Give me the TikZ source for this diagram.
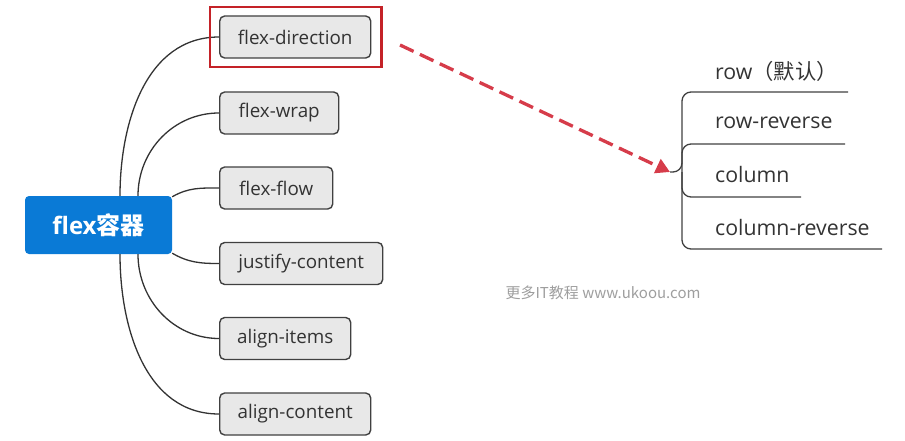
\documentclass[tikz,border=0pt]{standalone}
\usepackage{fontspec}
\setmainfont{Open Sans}
\newfontfamily\cjkfont{Noto Sans CJK SC}
\usetikzlibrary{arrows.meta,positioning}

\definecolor{rootblue}{RGB}{10,122,214}
\definecolor{markred}{RGB}{196,34,40}
\definecolor{arrowred}{RGB}{214,60,74}
\definecolor{itemgray}{RGB}{232,232,232}

\newcommand\itemfont{\fontsize{18.8}{21}\selectfont}
\newcommand\valuefont{\fontsize{21.3}{24}\selectfont}

\tikzset{
  rootbox/.style={fill=rootblue, rounded corners=4pt, minimum width=147pt,
    minimum height=58pt, text=white, font=\fontsize{24}{27}\selectfont\bfseries},
  flexitem/.style={draw=black!75, line width=1.4pt, fill=itemgray,
    rounded corners=5pt, minimum height=42pt, anchor=west, inner xsep=0pt,
    font=\itemfont, text=black!80},
  branch/.style={draw=black!80, line width=1.3pt},
  valuetext/.style={anchor=west, inner sep=0pt, font=\valuefont, text=black!80},
  underline/.style={draw=black!75, line width=1.3pt, rounded corners=9pt},
  markbox/.style={draw=markred, line width=2.3pt},
  pointer/.style={draw=arrowred, line width=3.3pt, dash pattern=on 15pt off 7pt,
    -{Triangle[length=14pt,width=15pt]}}
}

\begin{document}
\begin{tikzpicture}[x=1pt, y=1pt]
  \useasboundingbox (0,0) rectangle (905,440);

  % root and its properties
  \node[rootbox] (root) at (98.5,215) {flex{\cjkfont 容器}};
  \node[flexitem, minimum width=151pt] (dir) at (219,403) {flex-direction};
  \node[flexitem, minimum width=119pt] (wrap) at (219,327) {flex-wrap};
  \node[flexitem, minimum width=113pt] (flow) at (219,252) {flex-flow};
  \node[flexitem, minimum width=163pt] (justify) at (219,176.5) {justify-content};
  \node[flexitem, minimum width=131pt] (items) at (219,101.5) {align-items};
  \node[flexitem, minimum width=151pt] (content) at (219,26) {align-content};

  \draw[branch] ([xshift=21.5pt]root.north) to[out=90, in=180] (dir.west);
  \draw[branch] ([xshift=39.5pt]root.north) to[out=90, in=180] (wrap.west);
  \draw[branch] ([yshift=-1pt]root.north east) to[out=30, in=180] (flow.west);
  \draw[branch] ([yshift=1pt]root.south east) to[out=-30, in=180] (justify.west);
  \draw[branch] ([xshift=39.5pt]root.south) to[out=-90, in=180] (items.west);
  \draw[branch] ([xshift=21.5pt]root.south) to[out=-90, in=180] (content.west);

  % highlight
  \draw[markbox] ([shift={(-9pt,-8pt)}]dir.south west)
    rectangle ([shift={(10pt,8pt)}]dir.north east);

  % values of flex-direction
  \coordinate (hub) at (670,268);
  \coordinate (spine) at (682,268);
  \node[valuetext] (row) at (715,369) {row{\cjkfont （默认）}};
  \node[valuetext] (rowrev) at (715,317) {row-reverse};
  \node[valuetext] (col) at (715,265) {column};
  \node[valuetext] (colrev) at (715,212) {column-reverse};

  \draw[underline] (hub) -- (spine) |- (848,348);
  \draw[underline] (spine) |- (845,296);
  \draw[underline] (spine) |- (801,243);
  \draw[underline] (spine) |- (882,191);

  \coordinate (from) at (400,395);
  \draw[pointer] (from) -- (hub);

  \node[text=black!38, font=\cjkfont\fontsize{15}{17}\selectfont] (site)
    at (603,147) {更多IT教程 www.ukoou.com};
\end{tikzpicture}
\end{document}
